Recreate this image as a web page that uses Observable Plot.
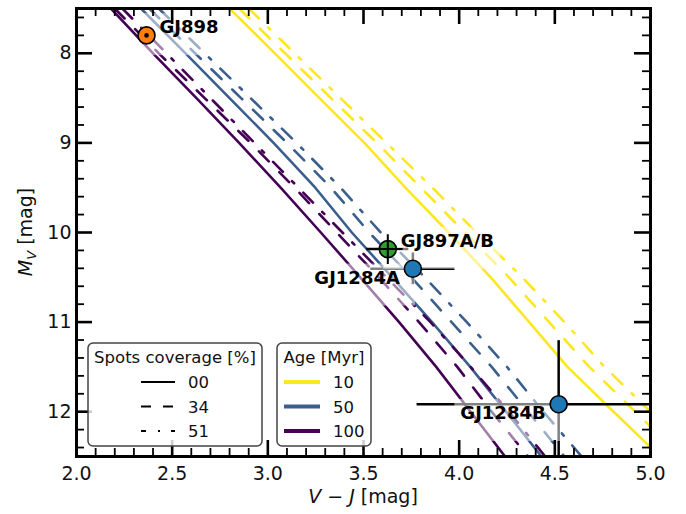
<!DOCTYPE html>
<html>
<head>
<meta charset="utf-8">
<script src="https://cdn.jsdelivr.net/npm/d3@7"></script>
<script src="https://cdn.jsdelivr.net/npm/@observablehq/plot@0.6"></script>
<style>
  html, body { margin: 0; padding: 0; background: #fff; }
  #chart { width: 686px; height: 514px; }
  svg { font-family: "DejaVu Sans", sans-serif; }
</style>
</head>
<body>
<div id="chart"></div>
<script>
// Absolute magnitude grid shared by all isochrones
const mvGrid = [7.5, 8.0, 8.5, 9.0, 9.5, 10.0, 10.5, 11.0, 11.5, 12.0, 12.5];

// V-J colour of each isochrone along mvGrid (age in Myr, spot coverage in %)
const age10_spot00  = [2.80, 3.037, 3.27, 3.505, 3.719, 3.945, 4.165, 4.366, 4.566, 4.807, 5.05];
const age10_spot34  = [2.85, 3.09, 3.33, 3.57, 3.80, 4.03, 4.26, 4.47, 4.68, 4.92, 5.16];
const age10_spot51  = [2.90, 3.14, 3.38, 3.62, 3.86, 4.09, 4.33, 4.55, 4.76, 5.00, 5.24];
const age50_spot00  = [2.337, 2.57, 2.80, 3.03, 3.248, 3.439, 3.65, 3.858, 4.058, 4.245, 4.43];
const age50_spot34  = [2.38, 2.62, 2.86, 3.10, 3.33, 3.53, 3.75, 3.96, 4.17, 4.36, 4.55];
const age50_spot51  = [2.43, 2.67, 2.91, 3.15, 3.38, 3.59, 3.82, 4.04, 4.25, 4.44, 4.64];
const age100_spot00 = [2.18, 2.40, 2.627, 2.85, 3.067, 3.277, 3.483, 3.686, 3.88, 4.06, 4.24];
const age100_spot34 = [2.20, 2.43, 2.67, 2.91, 3.14, 3.36, 3.58, 3.79, 3.99, 4.17, 4.36];
const age100_spot51 = [2.24, 2.47, 2.70, 2.93, 3.16, 3.39, 3.62, 3.85, 4.06, 4.26, 4.45];

const ages = ["10", "50", "100"];
const ageColors = ["#fde725", "#3b5f8d", "#440154"];
const spots = ["00", "34", "51"];
const spotDashes = ["none", "14,15", "14,13,3,13"];
const legendDashes = ["none", "10,12", "5,12,2,11"];

// Observed stars
const starNames = ["GJ898", "GJ897A/B", "GJ1284A", "GJ1284B"];
const starVJ    = [2.366, 3.627, 3.758, 4.52];
const starVJerr = [0.03, 0.11, 0.22, 0.74];
const starMV    = [7.80, 10.185, 10.405, 11.917];
const starMVerr = [0.04, 0.05, 0.177, 0.71];
const starFill  = ["#ff7f0e", "#2ca02c", "#1f77b4", "#1f77b4"];
const starLabelSide = ["right", "right", "left", "left"];

// Axis ticks
const xMajor = [2.0, 2.5, 3.0, 3.5, 4.0, 4.5, 5.0];
const xTickLabels = ["2.0", "2.5", "3.0", "3.5", "4.0", "4.5", "5.0"];
const yMajor = [8, 9, 10, 11, 12];
const yTickLabels = ["8", "9", "10", "11", "12"];
const xMinor = d3.range(21, 50).filter(i => i % 5).map(i => i / 10);
const yMinor = d3.range(38, 63).filter(i => i % 5).map(i => i / 5);

const series = {
  "10":  [age10_spot00, age10_spot34, age10_spot51],
  "50":  [age50_spot00, age50_spot34, age50_spot51],
  "100": [age100_spot00, age100_spot34, age100_spot51]
};
const rows = [];
ages.forEach((age, a) => {
  spots.forEach((spot, s) => {
    series[age][s].forEach((vj, i) => rows.push({age, color: ageColors[a], spot, vj, mv: mvGrid[i]}));
  });
});

const stars = starNames.map((name, i) => ({
  name, vj: starVJ[i], vjErr: starVJerr[i], mv: starMV[i], mvErr: starMVerr[i],
  fill: starFill[i], side: starLabelSide[i]
}));

const W = 686, H = 514;
const mL = 76, mR = 36, mT = 8, mB = 58;
const plotW = W - mL - mR, plotH = H - mT - mB;
const majorLen = 16, minorLen = 8;

const isoLines = spots.map((spot, s) =>
  Plot.line(rows.filter(r => r.spot === spot), {
    x: "vj", y: "mv", z: "age", stroke: "color",
    strokeWidth: 2.6, strokeDasharray: spotDashes[s] === "none" ? null : spotDashes[s],
    clip: true
  })
);

const labelFont = {fontSize: 18, fontWeight: "bold", fill: "black"};

const chart = Plot.plot({
  width: W, height: H,
  marginLeft: mL, marginRight: mR, marginTop: mT, marginBottom: mB,
  x: {domain: [2, 5], axis: null},
  y: {domain: [7.5, 12.5], reverse: true, axis: null},
  color: {type: "identity"},
  marks: [
    ...isoLines,
    // error bars
    Plot.ruleY(stars, {y: "mv", x1: d => d.vj - d.vjErr, x2: d => d.vj + d.vjErr, stroke: "black", strokeWidth: 2.5, clip: true}),
    Plot.ruleX(stars, {x: "vj", y1: d => d.mv - d.mvErr, y2: d => d.mv + d.mvErr, stroke: "black", strokeWidth: 2.5, clip: true}),
    // star names
    Plot.text(stars.filter(d => d.side === "right"), {x: "vj", y: "mv", text: "name", textAnchor: "start", dx: 13, dy: -8, ...labelFont}),
    Plot.text(stars.filter(d => d.side === "left"), {x: "vj", y: "mv", text: "name", textAnchor: "end", dx: -13, dy: 9, ...labelFont}),
    // star markers
    Plot.dot(stars, {x: "vj", y: "mv", r: 8.5, fill: "fill", stroke: "black", strokeWidth: 1.6}),
    Plot.dot(stars.filter(d => d.name === "GJ898"), {x: "vj", y: "mv", r: 2.3, fill: "black"}),
    Plot.dot(stars.filter(d => d.name === "GJ897A/B"), {x: "vj", y: "mv", r: 9.6, symbol: "plus", stroke: "black", strokeWidth: 2}),
    // inward ticks on all four sides
    Plot.tickX(xMajor, {insetTop: plotH - majorLen, stroke: "black", strokeWidth: 2.6}),
    Plot.tickX(xMajor, {insetBottom: plotH - majorLen, stroke: "black", strokeWidth: 2.6}),
    Plot.tickX(xMinor, {insetTop: plotH - minorLen, stroke: "black", strokeWidth: 1.8}),
    Plot.tickX(xMinor, {insetBottom: plotH - minorLen, stroke: "black", strokeWidth: 1.8}),
    Plot.tickY(yMajor, {insetRight: plotW - majorLen, stroke: "black", strokeWidth: 2.6}),
    Plot.tickY(yMajor, {insetLeft: plotW - majorLen, stroke: "black", strokeWidth: 2.6}),
    Plot.tickY(yMinor, {insetRight: plotW - minorLen, stroke: "black", strokeWidth: 1.8}),
    Plot.tickY(yMinor, {insetLeft: plotW - minorLen, stroke: "black", strokeWidth: 1.8}),
    Plot.frame({stroke: "black", strokeWidth: 3}),
    Plot.axisX(xMajor, {tickSize: 0, tickPadding: 10, fontSize: 19, fill: "#111", tickFormat: (d, i) => xTickLabels[i], label: null}),
    Plot.axisY(yMajor, {tickSize: 0, tickPadding: 5, fontSize: 19, fill: "#111", tickFormat: (d, i) => yTickLabels[i], label: null})
  ]
});

document.getElementById("chart").appendChild(chart);
const svg = d3.select(chart);

// Translucent white boxes behind the star names
const labelNodes = svg.selectAll("text").filter(function () { return starNames.includes(this.textContent); }).nodes();
if (labelNodes.length) {
  const firstGroup = labelNodes[0].closest("g");
  const parent = firstGroup.parentNode;
  labelNodes.forEach(node => {
    const b = node.getBBox();
    const m = node.getCTM();
    const side = stars.find(s => s.name === node.textContent).side;
    const padL = side === "right" ? 18 : 6;
    const padR = side === "right" ? 6 : 15;
    const x0 = b.x + (m ? m.e : 0), y0 = b.y + (m ? m.f : 0);
    const r = document.createElementNS("http://www.w3.org/2000/svg", "rect");
    r.setAttribute("x", x0 - padL);
    r.setAttribute("y", y0 - 3);
    r.setAttribute("width", b.width + padL + padR);
    r.setAttribute("height", b.height + 3 + 18);
    r.setAttribute("fill", "white");
    r.setAttribute("fill-opacity", 0.5);
    parent.insertBefore(r, firstGroup);
  });
}

// Axis titles
const xt = svg.append("text").attr("x", mL + plotW / 2).attr("y", 503)
  .attr("text-anchor", "middle").attr("font-size", 19).attr("fill", "#111");
xt.append("tspan").attr("font-style", "italic").text("V");
xt.append("tspan").text(" \u2212 ");
xt.append("tspan").attr("font-style", "italic").text("J");
xt.append("tspan").text(" [mag]");

const yt = svg.append("text").attr("transform", `translate(32,${mT + plotH / 2}) rotate(-90)`)
  .attr("text-anchor", "middle").attr("font-size", 19).attr("fill", "#111");
yt.append("tspan").attr("font-style", "italic").text("M");
yt.append("tspan").attr("font-style", "italic").attr("font-size", 13).attr("dy", 4).text("V");
yt.append("tspan").attr("dy", -4).text(" [mag]");

// Legends
function legendBox(x, y, w, h, title) {
  const g = svg.append("g").attr("text-anchor", "start");
  g.append("rect").attr("x", x).attr("y", y).attr("width", w).attr("height", h)
    .attr("rx", 5).attr("fill", "white").attr("fill-opacity", 0.8)
    .attr("stroke", "#444").attr("stroke-width", 1.5);
  g.append("text").attr("x", x + w / 2).attr("y", y + 20).attr("text-anchor", "middle")
    .attr("font-size", 16.5).attr("fill", "#111").text(title);
  return g;
}
const rowY = [382, 406.5, 431];

const lg1 = legendBox(88, 343, 174, 103, "Spots coverage [%]");
spots.forEach((spot, i) => {
  lg1.append("line").attr("x1", 141).attr("x2", 175).attr("y1", rowY[i]).attr("y2", rowY[i])
    .attr("stroke", "black").attr("stroke-width", 2)
    .attr("stroke-dasharray", legendDashes[i] === "none" ? null : legendDashes[i]);
  lg1.append("text").attr("x", 188).attr("y", rowY[i] + 6).attr("text-anchor", "start")
    .attr("font-size", 16.5).attr("fill", "#111").text(spot);
});

const lg2 = legendBox(277, 343, 94, 103, "Age [Myr]");
ages.forEach((age, i) => {
  lg2.append("line").attr("x1", 284).attr("x2", 320).attr("y1", rowY[i]).attr("y2", rowY[i])
    .attr("stroke", ageColors[i]).attr("stroke-width", 4.2);
  lg2.append("text").attr("x", 333).attr("y", rowY[i] + 6).attr("text-anchor", "start")
    .attr("font-size", 16.5).attr("fill", "#111").text(age);
});
</script>
</body>
</html>
